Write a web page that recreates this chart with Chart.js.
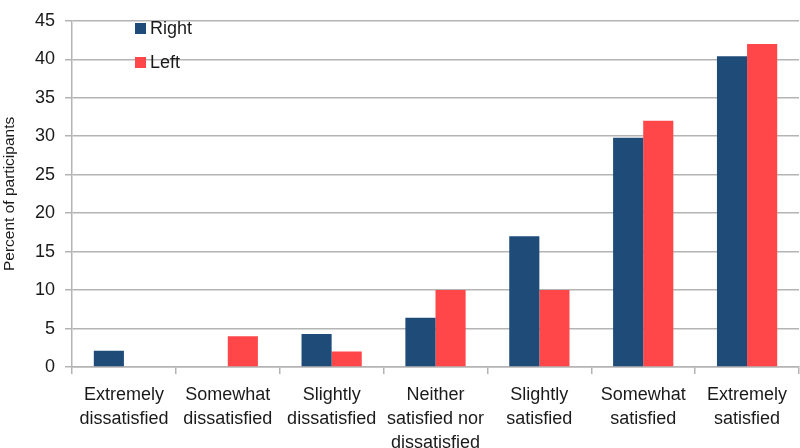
<!DOCTYPE html>
<html>
<head>
<meta charset="utf-8">
<script src="https://cdn.jsdelivr.net/npm/chart.js@4"></script>
<style>
  html, body { margin: 0; padding: 0; background: #fff; }
  #wrap { width: 800px; height: 448px; }
</style>
</head>
<body>
<div id="wrap"><canvas id="chart" width="800" height="448"></canvas></div>
<script>
const categories = [
    ["Extremely", "dissatisfied"],
    ["Somewhat", "dissatisfied"],
    ["Slightly", "dissatisfied"],
    ["Neither", "satisfied nor", "dissatisfied"],
    ["Slightly", "satisfied"],
    ["Somewhat", "satisfied"],
    ["Extremely", "satisfied"]
];
const rightValues = [2.1, 0, 4.3, 6.4, 17.0, 29.8, 40.4];
const leftValues = [0, 4.0, 2.0, 10.0, 10.0, 32.0, 42.0];
const yTicks = [0, 5, 10, 15, 20, 25, 30, 35, 40, 45];

const fontFamily = "'Liberation Sans', Arial, sans-serif";
const gridGrey = "#b4b4b4";

// legend drawn inside the plot, top-left
const insideLegend = {
    id: "insideLegend",
    afterDraw(chart) {
        const ctx = chart.ctx;
        ctx.save();
        ctx.font = "18px " + fontFamily;
        ctx.textBaseline = "middle";
        chart.data.datasets.forEach((ds, i) => {
            const y = 28 + i * 34;
            ctx.fillStyle = ds.backgroundColor;
            ctx.fillRect(135, y - 5, 11, 11);
            ctx.fillStyle = "#1a1a1a";
            ctx.fillText(ds.label, 150, y + 1);
        });
        ctx.restore();
    }
};

new Chart(document.getElementById("chart"), {
    type: "bar",
    data: {
        labels: categories,
        datasets: [
            { label: "Right", data: rightValues, backgroundColor: "#1f4b78", categoryPercentage: 0.58, barPercentage: 1.0 },
            { label: "Left", data: leftValues, backgroundColor: "#ff4649", categoryPercentage: 0.58, barPercentage: 1.0 }
        ]
    },
    options: {
        responsive: false,
        animation: false,
        layout: { padding: { top: 8, right: 1, left: 0, bottom: 0 } },
        plugins: {
            legend: { display: false },
            tooltip: { enabled: false }
        },
        scales: {
            x: {
                grid: { offset: true, drawOnChartArea: false, drawTicks: true, tickLength: 7, color: gridGrey, lineWidth: 1.5 },
                border: { display: true, color: gridGrey, width: 1.5 },
                ticks: { color: "#1a1a1a", font: { family: fontFamily, size: 18, lineHeight: 1.333 }, padding: 9, maxRotation: 0, autoSkip: false },
                afterFit(scale) { scale.height = 81; }
            },
            y: {
                min: 0,
                max: 45,
                afterBuildTicks(scale) { scale.ticks = yTicks.map(v => ({ value: v })); },
                grid: { color: gridGrey, lineWidth: 1.5, tickLength: 7 },
                border: { display: true, color: gridGrey, width: 1.5 },
                ticks: { color: "#1a1a1a", font: { family: fontFamily, size: 18 }, padding: 10 },
                title: { display: true, text: "Percent of participants", color: "#1a1a1a", font: { family: fontFamily, size: 15.5 }, padding: { top: 0, bottom: 2 } },
                afterFit(scale) { scale.width = 72; }
            }
        }
    },
    plugins: [insideLegend]
});
</script>
</body>
</html>
